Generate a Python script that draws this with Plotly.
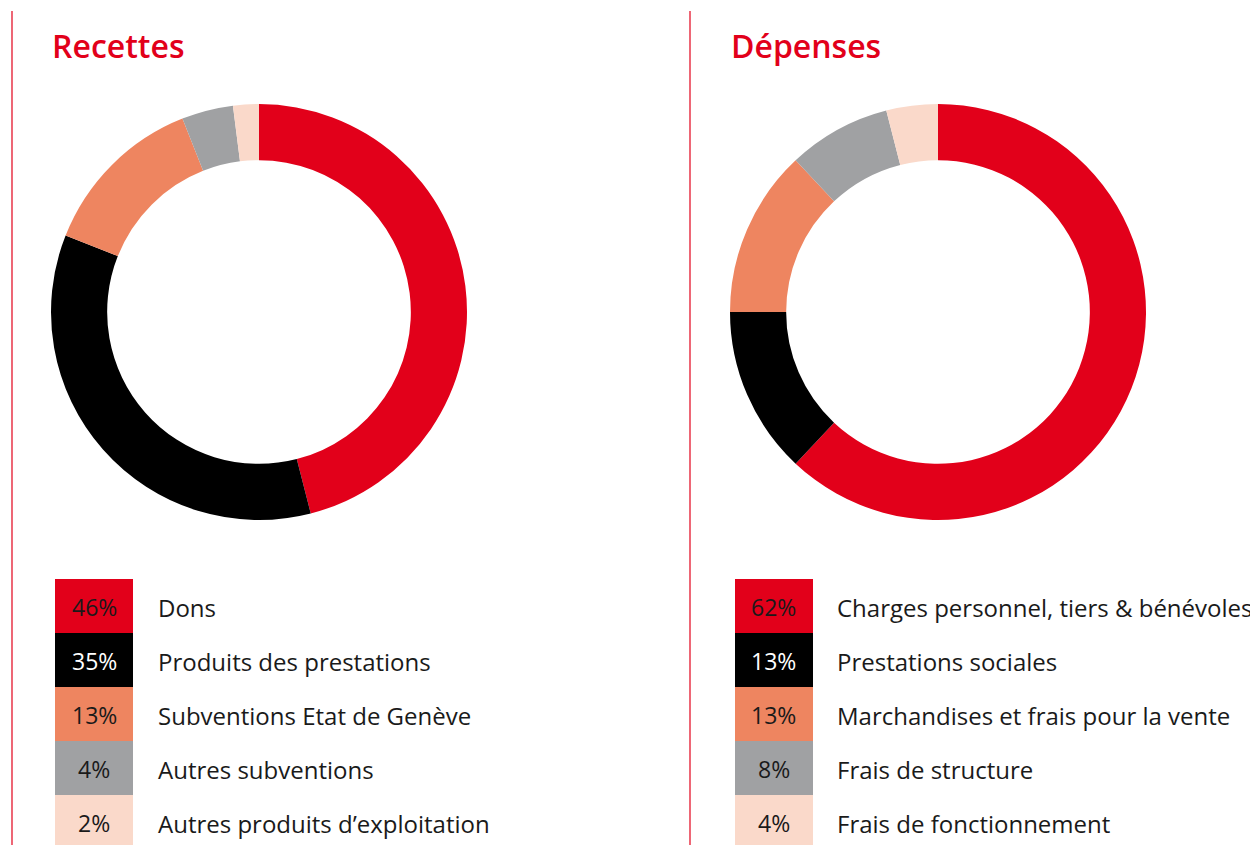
import plotly.graph_objects as go

W, H = 1258, 845
OFF = 8  # page body margin offset

rec_labels = ["Dons", "Produits des prestations", "Subventions Etat de Genève",
              "Autres subventions", "Autres produits d’exploitation"]
rec_values = [46, 35, 13, 4, 2]

dep_labels = ["Charges personnel, tiers & bénévoles", "Prestations sociales",
              "Marchandises et frais pour la vente", "Frais de structure",
              "Frais de fonctionnement"]
dep_values = [62, 13, 13, 8, 4]

colors = ["#E2001A", "#000000", "#EE8560", "#A0A1A3", "#FAD9CA"]
pct_colors = ["#1a1a1a", "#ffffff", "#1a1a1a", "#1a1a1a", "#1a1a1a"]

FONT = "Open Sans"
RED = "#E2001A"


def px_x(x):
    return (x - OFF) / W


def px_y(y):
    return 1 - (y - OFF) / H


fig = go.Figure()

panels = [
    dict(title="Recettes", labels=rec_labels, values=rec_values, cx=259, sq=55, tx=157, tt=52, line=12),
    dict(title="Dépenses", labels=dep_labels, values=dep_values, cx=938, sq=735, tx=836, tt=731, line=690),
]

R = 208
CY = 312
shapes = []
annotations = []
for p in panels:
    fig.add_trace(go.Pie(
        labels=p["labels"], values=p["values"], sort=False, direction="clockwise",
        rotation=0, hole=0.73, textinfo="none", hoverinfo="label+percent",
        marker=dict(colors=colors, line=dict(width=0)), showlegend=False,
        domain=dict(x=[px_x(p["cx"] - R), px_x(p["cx"] + R)],
                    y=[px_y(CY + R), px_y(CY - R)]),
    ))
    shapes.append(dict(type="line", xref="paper", yref="paper",
                       x0=px_x(p["line"]), x1=px_x(p["line"]),
                       y0=px_y(11), y1=px_y(853), line=dict(color=RED, width=1.2)))
    annotations.append(dict(text=p["title"], xref="paper", yref="paper",
                            x=px_x(p["tt"] - 2), y=px_y(45), xanchor="left", yanchor="middle",
                            showarrow=False,
                            font=dict(family=FONT, size=32, color=RED, weight=600)))
    for i, (lab, val) in enumerate(zip(p["labels"], p["values"])):
        top = 579 + 54 * i
        bot = top + 54
        shapes.append(dict(type="rect", xref="paper", yref="paper",
                           x0=px_x(p["sq"]), x1=px_x(p["sq"] + 78),
                           y0=px_y(bot), y1=px_y(top),
                           fillcolor=colors[i], line=dict(width=0)))
        cy = top + 28
        annotations.append(dict(text=f"{val}%", xref="paper", yref="paper",
                                x=px_x(p["sq"] + 39), y=px_y(cy), xanchor="center",
                                yanchor="middle", showarrow=False,
                                font=dict(family=FONT, size=23, color=pct_colors[i], weight=400)))
        annotations.append(dict(text=lab, xref="paper", yref="paper",
                                x=px_x(p["tx"] - 1), y=px_y(cy), xanchor="left",
                                yanchor="middle", showarrow=False,
                                font=dict(family=FONT, size=24, color="#1a1a1a", weight=400)))

fig.update_layout(
    width=W, height=H, margin=dict(l=0, r=0, t=0, b=0),
    paper_bgcolor="white", plot_bgcolor="white",
    shapes=shapes, annotations=annotations,
)

fig.write_html("out.html")
